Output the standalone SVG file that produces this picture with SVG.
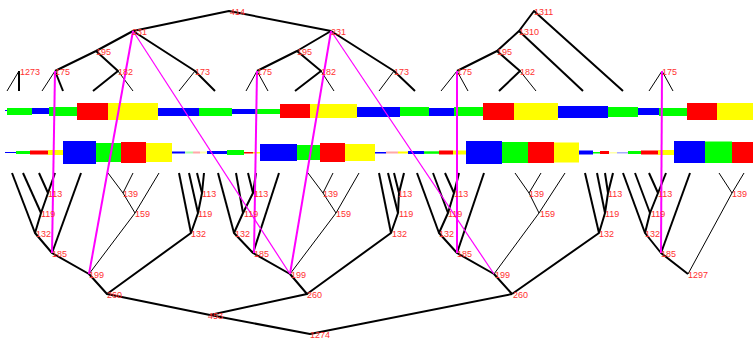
<svg xmlns="http://www.w3.org/2000/svg" width="753" height="341" viewBox="0 0 753 341">
<style>
.e{stroke:#000;stroke-width:2;fill:none;stroke-linejoin:round}
.t{stroke:#000;stroke-width:1;fill:none;stroke-linejoin:round}
.p{stroke:#f0f;stroke-width:2;fill:none}
.pt{stroke:#f0f;stroke-width:1.2;fill:none}
text{font-family:"Liberation Sans",Arial,sans-serif;font-size:9px;fill:#ff3030}
.g{fill:#00ff00}.b{fill:#0000ff}.r{fill:#ff0000}.y{fill:#ffff00}
.lg{fill:#a8ffa8}.pk{fill:#ffa8a8}.ly{fill:#ffffa8}.lb{fill:#a8a8ff}
</style>
<rect width="753" height="341" fill="#fff"/>

<!-- upper alignment track -->
<g id="track-top">
<rect class="b" x="5" y="110" width="2" height="1"/>
<rect class="g" x="7" y="108" width="25" height="7"/>
<rect class="b" x="32" y="108" width="17" height="6"/>
<rect class="g" x="49" y="107" width="28" height="9"/>
<rect class="r" x="77" y="103" width="31" height="17"/>
<rect class="y" x="108" y="103" width="50" height="17"/>
<rect class="b" x="158" y="108" width="41" height="8"/>
<rect class="g" x="199" y="108" width="33" height="8"/>
<rect class="b" x="232" y="109" width="23" height="5"/>
<rect class="g" x="255" y="109" width="25" height="5"/>
<rect class="r" x="280" y="104" width="30" height="14"/>
<rect class="y" x="310" y="104" width="47" height="14"/>
<rect class="b" x="357" y="107" width="43" height="10"/>
<rect class="g" x="400" y="107" width="29" height="9"/>
<rect class="b" x="429" y="108" width="25" height="8"/>
<rect class="g" x="454" y="107" width="29" height="9"/>
<rect class="r" x="483" y="103" width="31" height="17"/>
<rect class="y" x="514" y="103" width="44" height="17"/>
<rect class="b" x="558" y="106" width="50" height="12"/>
<rect class="g" x="608" y="107" width="30" height="10"/>
<rect class="b" x="638" y="108" width="21" height="7"/>
<rect class="g" x="659" y="108" width="28" height="8"/>
<rect class="r" x="687" y="103" width="30" height="17"/>
<rect class="y" x="717" y="103" width="36" height="17"/>
</g>

<!-- lower alignment track -->
<g id="track-bottom">
<rect class="b" x="5" y="152" width="11" height="1"/>
<rect class="g" x="16" y="151" width="14" height="3"/>
<rect class="r" x="30" y="150.5" width="18" height="4"/>
<rect class="y" x="48" y="150" width="15" height="5"/>
<rect class="b" x="63" y="141" width="33" height="23"/>
<rect class="g" x="96" y="143" width="25" height="19"/>
<rect class="r" x="121" y="142" width="25" height="21"/>
<rect class="y" x="146" y="143" width="26" height="19"/>
<rect class="b" x="172" y="151.5" width="13" height="2"/>
<rect class="lg" x="185" y="151.5" width="8" height="2"/>
<rect class="pk" x="193" y="151.5" width="7" height="2"/>
<rect class="ly" x="200" y="151.5" width="7" height="2"/>
<rect class="b" x="207" y="151" width="20" height="3"/>
<rect class="g" x="227" y="150" width="17" height="5"/>
<rect class="r" x="244" y="152" width="9" height="1.5"/>
<rect class="y" x="253" y="152" width="7" height="1.5"/>
<rect class="b" x="260" y="144" width="37" height="17"/>
<rect class="g" x="297" y="145" width="23" height="15"/>
<rect class="r" x="320" y="143" width="25" height="19"/>
<rect class="y" x="345" y="144" width="30" height="17"/>
<rect class="b" x="375" y="152" width="11" height="1.5"/>
<rect class="pk" x="386" y="151.5" width="12" height="2"/>
<rect class="y" x="398" y="151.5" width="10" height="2"/>
<rect class="b" x="408" y="151" width="16" height="3"/>
<rect class="g" x="424" y="151.3" width="15" height="2.5"/>
<rect class="r" x="439" y="150.5" width="14" height="4"/>
<rect class="y" x="453" y="150.5" width="13" height="4"/>
<rect class="b" x="466" y="141" width="36" height="23"/>
<rect class="g" x="502" y="142" width="26" height="21"/>
<rect class="r" x="528" y="142" width="26" height="21"/>
<rect class="y" x="554" y="142.5" width="25" height="20"/>
<rect class="b" x="579" y="150.5" width="14" height="4"/>
<rect class="g" x="593" y="152" width="7" height="1.5"/>
<rect class="r" x="600" y="151" width="9" height="3"/>
<rect class="ly" x="609" y="152" width="8" height="1.5"/>
<rect class="lb" x="617" y="152" width="11" height="1.5"/>
<rect class="g" x="628" y="151" width="13" height="3"/>
<rect class="r" x="641" y="150.5" width="17" height="4"/>
<rect class="y" x="658" y="150" width="16" height="5"/>
<rect class="b" x="674" y="141" width="31" height="22"/>
<rect class="g" x="705" y="141.5" width="27" height="21.5"/>
<rect class="r" x="732" y="142" width="21" height="21"/>
</g>

<g id="connectors">
<!-- upper tree -->
<path class="e" d="M133,31 L229,11 L331,31"/>
<path class="e" d="M133,31 L96,51 L55,71"/>
<path class="t" d="M55,71 L42,91"/>
<path class="e" d="M55,71 L63,91"/>
<path class="e" d="M96,51 L118,71 L93,91"/>
<path class="t" d="M118,71 L133,91"/>
<path class="e" d="M133,31 L195,71 L215,91"/>
<path class="t" d="M195,71 L179,91"/>
<path class="t" d="M19,71 L7,91"/>
<path class="e" d="M19,71 L19,91"/>
<path class="e" d="M331,31 L297,51 L257,71"/>
<path class="t" d="M257,71 L246,91"/>
<path class="t" d="M257,71 L268,91"/>
<path class="e" d="M297,51 L321,71 L295,91"/>
<path class="t" d="M321,71 L334,91"/>
<path class="e" d="M331,31 L394,71 L415,91"/>
<path class="t" d="M394,71 L379,91"/>
<path class="e" d="M623,91 L534,11 L519,31 L497,51 L457,71"/>
<path class="e" d="M519,31 L583,91"/>
<path class="t" d="M457,71 L441,91"/>
<path class="t" d="M457,71 L468,91"/>
<path class="e" d="M497,51 L520,71 L499,91"/>
<path class="t" d="M520,71 L536,91"/>
<path class="t" d="M662,71 L649,91"/>
<path class="t" d="M662,71 L673,91"/>

<!-- lower tree -->
<path class="e" d="M39,173 L48,193 L41,213 L35,233 L52,253 L89,274 L107,294 L210,315 L310,334 L512,294"/>
<path class="e" d="M55,173 L48,193"/>
<path class="e" d="M23,173 L41,213"/>
<path class="e" d="M12,173 L35,233"/>
<path class="e" d="M81,173 L52,253"/>
<path class="t" d="M108,173 L123,193 L135,213 L89,274"/>
<path class="t" d="M133,173 L123,193"/>
<path class="t" d="M159,173 L135,213"/>
<path class="e" d="M197,173 L202,193 L198,213 L191,233 L107,294"/>
<path class="e" d="M204,173 L202,193"/>
<path class="e" d="M189,173 L198,213"/>
<path class="e" d="M179,173 L191,233"/>

<path class="e" d="M248,173 L253,193 L243,213 L234,233 L253,253 L290,274 L307,294 L210,315"/>
<path class="e" d="M256,173 L253,193"/>
<path class="e" d="M236,173 L243,213"/>
<path class="e" d="M218,173 L234,233"/>
<path class="e" d="M279,173 L253,253"/>
<path class="t" d="M308,173 L323,193 L336,213 L290,274"/>
<path class="t" d="M333,173 L323,193"/>
<path class="t" d="M359,173 L336,213"/>
<path class="e" d="M394,173 L399,193 L398,213 L391,233 L307,294"/>
<path class="e" d="M404,173 L399,193"/>
<path class="e" d="M388,173 L398,213"/>
<path class="e" d="M379,173 L391,233"/>

<path class="e" d="M445,173 L454,193 L448,213 L439,233 L457,253 L494,274 L512,294"/>
<path class="e" d="M459,173 L454,193"/>
<path class="e" d="M433,173 L448,213"/>
<path class="e" d="M417,173 L439,233"/>
<path class="e" d="M484,173 L457,253"/>
<path class="t" d="M515,173 L529,193 L539,213 L494,274"/>
<path class="t" d="M541,173 L529,193"/>
<path class="t" d="M565,173 L539,213"/>
<path class="e" d="M605,173 L608,193 L605,213 L599,233 L512,294"/>
<path class="e" d="M613,173 L608,193"/>
<path class="e" d="M597,173 L605,213"/>
<path class="e" d="M585,173 L599,233"/>

<path class="e" d="M649,173 L658,193 L650,213 L645,233 L661,253 L688,274"/>
<path class="e" d="M666,173 L658,193"/>
<path class="e" d="M635,173 L650,213"/>
<path class="e" d="M623,173 L645,233"/>
<path class="e" d="M690,173 L661,253"/>
<path class="t" d="M719,173 L732,193 L688,274"/>
<path class="t" d="M744,173 L732,193"/>

<!-- cross links -->
<path class="p" d="M55,71 L52,253"/>
<path class="p" d="M257,71 L254,253"/>
<path class="p" d="M457,71 L457,253"/>
<path class="p" d="M662,71 L661,253"/>
<path class="p" d="M133,31 L89,274"/>
<path class="pt" d="M133,31 L290,274"/>
<path class="p" d="M331,31 L290,274"/>
<path class="pt" d="M331,31 L494,274"/>
</g>

<!-- upper nodes -->
<g id="n414"><text x="230" y="14.5">414</text></g>
<g id="n231a"><text x="132" y="34.5">231</text></g>
<g id="n231b"><text x="331" y="34.5">231</text></g>
<g id="n1311"><text x="534" y="14.5">1311</text></g>
<g id="n1310"><text x="519" y="34.5">1310</text></g>
<g id="n195a"><text x="96" y="54.5">195</text></g>
<g id="n195b"><text x="297" y="54.5">195</text></g>
<g id="n195c"><text x="497" y="54.5">195</text></g>
<g id="n1273"><text x="20" y="74.5">1273</text></g>
<g id="n175a"><text x="55" y="74.5">175</text></g>
<g id="n175b"><text x="257" y="74.5">175</text></g>
<g id="n175c"><text x="457" y="74.5">175</text></g>
<g id="n175d"><text x="662" y="74.5">175</text></g>
<g id="n182a"><text x="118" y="74.5">182</text></g>
<g id="n182b"><text x="321" y="74.5">182</text></g>
<g id="n182c"><text x="520" y="74.5">182</text></g>
<g id="n173a"><text x="195" y="74.5">173</text></g>
<g id="n173b"><text x="394" y="74.5">173</text></g>

<!-- lower nodes -->
<g id="n113a"><text x="48" y="196.5">113</text></g>
<g id="n113b"><text x="202" y="196.5">113</text></g>
<g id="n113c"><text x="254" y="196.5">113</text></g>
<g id="n113d"><text x="398" y="196.5">113</text></g>
<g id="n113e"><text x="454" y="196.5">113</text></g>
<g id="n113f"><text x="608" y="196.5">113</text></g>
<g id="n113g"><text x="658" y="196.5">113</text></g>
<g id="n139a"><text x="123" y="196.5">139</text></g>
<g id="n139b"><text x="323" y="196.5">139</text></g>
<g id="n139c"><text x="529" y="196.5">139</text></g>
<g id="n139d"><text x="732" y="196.5">139</text></g>
<g id="n119a"><text x="41" y="216.5">119</text></g>
<g id="n119b"><text x="198" y="216.5">119</text></g>
<g id="n119c"><text x="244" y="216.5">119</text></g>
<g id="n119d"><text x="399" y="216.5">119</text></g>
<g id="n119e"><text x="448" y="216.5">119</text></g>
<g id="n119f"><text x="605" y="216.5">119</text></g>
<g id="n119g"><text x="651" y="216.5">119</text></g>
<g id="n159a"><text x="135" y="216.5">159</text></g>
<g id="n159b"><text x="336" y="216.5">159</text></g>
<g id="n159c"><text x="540" y="216.5">159</text></g>
<g id="n132a"><text x="36" y="236.5">132</text></g>
<g id="n132b"><text x="191" y="236.5">132</text></g>
<g id="n132c"><text x="235" y="236.5">132</text></g>
<g id="n132d"><text x="392" y="236.5">132</text></g>
<g id="n132e"><text x="439" y="236.5">132</text></g>
<g id="n132f"><text x="599" y="236.5">132</text></g>
<g id="n132g"><text x="645" y="236.5">132</text></g>
<g id="n185a"><text x="52" y="256.5">185</text></g>
<g id="n185b"><text x="254" y="256.5">185</text></g>
<g id="n185c"><text x="457" y="256.5">185</text></g>
<g id="n185d"><text x="661" y="256.5">185</text></g>
<g id="n199a"><text x="89" y="277.5">199</text></g>
<g id="n199b"><text x="291" y="277.5">199</text></g>
<g id="n199c"><text x="495" y="277.5">199</text></g>
<g id="n1297"><text x="688" y="277.5">1297</text></g>
<g id="n260a"><text x="107" y="297.5">260</text></g>
<g id="n260b"><text x="307" y="297.5">260</text></g>
<g id="n260c"><text x="513" y="297.5">260</text></g>
<g id="n453"><text x="208" y="318.5">453</text></g>
<g id="n1274"><text x="310" y="337.5">1274</text></g>
</svg>
